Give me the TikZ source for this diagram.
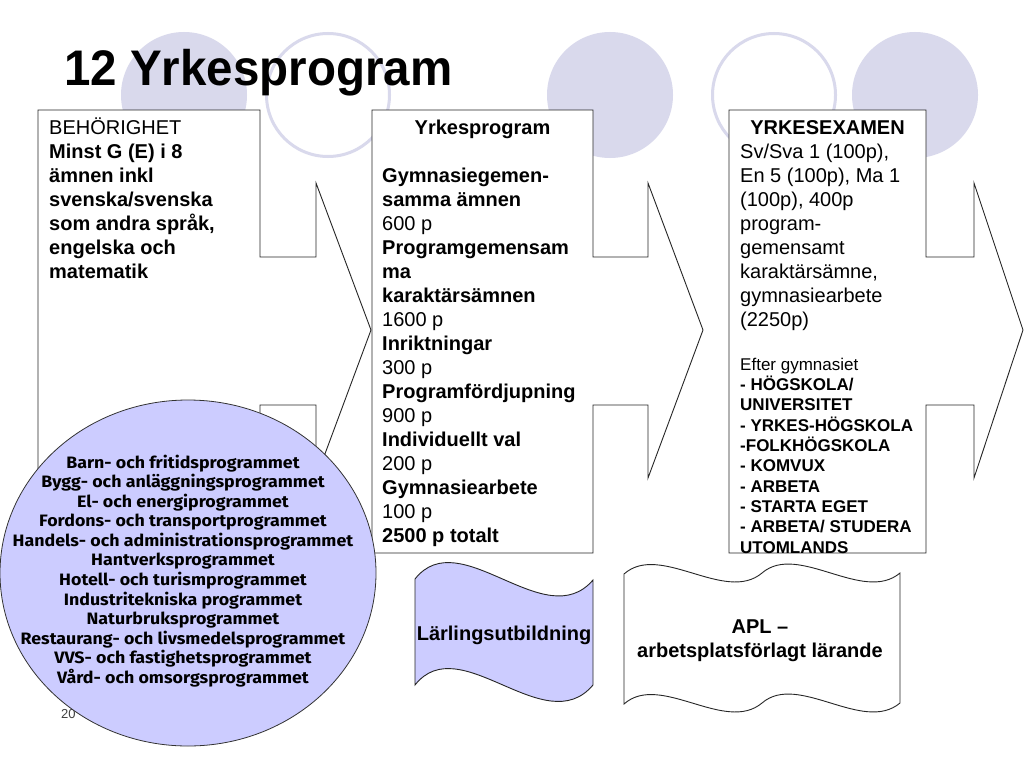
\documentclass[tikz,border=0pt]{standalone}
\usepackage{fontspec}
\setmainfont{Liberation Sans}
\newfontfamily\ellfont[FakeStretch=1.08]{Fira Sans}
\newfontfamily\titlefont[FakeStretch=0.95]{Liberation Sans}
\definecolor{bgc}{RGB}{217,217,236}
\definecolor{lav}{RGB}{204,204,255}
\newcommand{\bstrut}{\rule{0pt}{20pt}}
\newcommand{\sstrut}{\rule{0pt}{17pt}}
\newcommand{\estrut}{\rule{0pt}{14pt}}
\begin{document}
\begin{tikzpicture}[x=1pt,y=-1pt,
  circfill/.style={fill=bgc,draw=none},
  circline/.style={draw=bgc,line width=3pt},
  arrowbox/.style={draw=black!85,line width=0.9pt,fill=white,line join=miter},
  wavebox/.style={draw=black!85,line width=0.9pt},
  txt/.style={inner sep=0pt,align=left,anchor=north west,font=\fontsize{20}{24}\selectfont},
  smalltxt/.style={inner sep=0pt,align=left,anchor=north west,font=\fontsize{17}{20.33}\selectfont},
  head/.style={inner sep=0pt,anchor=base,font=\fontsize{20}{24}\selectfont\bfseries},
  elltxt/.style={inner sep=0pt,align=center,anchor=north,font=\ellfont\fontsize{16.5}{19.55}\selectfont\bfseries}]
\useasboundingbox (0,0) rectangle (1024,768);
\fill[white] (0,0) rectangle (1024,768);

% background circles
\path[circfill] (184,95) circle[radius=63pt];
\path[circline] (328,95) circle[radius=61.5pt];
\path[circfill] (610,95) circle[radius=63pt];
\path[circline] (774,95) circle[radius=61.5pt];
\path[circfill] (915,95) circle[radius=63pt];

% title
\node[inner sep=0pt,anchor=base west,font=\titlefont\fontsize{50}{54}\selectfont\bfseries] (title) at (64,85) {12 Yrkesprogram};

% arrow boxes
\draw[arrowbox] (38,110) -- (260,110) -- (260,257) -- (316,257) -- (316,183) -- (371,330) -- (316,478) -- (316,405) -- (260,405) -- (260,553) -- (38,553) -- cycle;
\draw[arrowbox] (372,110) -- (593,110) -- (593,257) -- (648,257) -- (648,183) -- (703,330) -- (648,478) -- (648,405) -- (593,405) -- (593,553) -- (372,553) -- cycle;
\draw[arrowbox] (729,110) -- (926,110) -- (926,257) -- (974,257) -- (974,183) -- (1023,330) -- (974,478) -- (974,405) -- (926,405) -- (926,553) -- (729,553) -- cycle;

% box 1 text
\node[txt] (beh) at (49,114) {\bstrut BEHÖRIGHET\\ \textbf{Minst G (E) i 8}\\ \textbf{ämnen inkl}\\ \textbf{svenska/svenska}\\ \textbf{som andra språk,}\\ \textbf{engelska och}\\ \textbf{matematik}};

% box 2 text
\node[head] (h2) at (482.5,134) {Yrkesprogram};
\node[txt] (yp) at (382,162) {\bstrut\textbf{Gymnasiegemen-}\\ \textbf{samma ämnen}\\ 600 p\\ \textbf{Programgemensam}\\ \textbf{ma}\\ \textbf{karaktärsämnen}\\ 1600 p\\ \textbf{Inriktningar}\\ 300 p\\ \textbf{Programfördjupning}\\ 900 p\\ \textbf{Individuellt val}\\ 200 p\\ \textbf{Gymnasiearbete}\\ 100 p\\ \textbf{2500 p totalt}};

% box 3 text
\node[head] (h3) at (827.5,134) {YRKESEXAMEN};
\node[txt] (ex) at (740,138) {\bstrut Sv/Sva 1 (100p),\\ En 5 (100p), Ma 1\\ (100p), 400p\\ program-\\ gemensamt\\ karaktärsämne,\\ gymnasiearbete\\ (2250p)};
\node[smalltxt] (efter) at (740,353) {\sstrut Efter gymnasiet\\ \textbf{- HÖGSKOLA/}\\ \textbf{UNIVERSITET}\\ \textbf{- YRKES-HÖGSKOLA}\\ \textbf{-FOLKHÖGSKOLA}\\ \textbf{- KOMVUX}\\ \textbf{- ARBETA}\\ \textbf{- STARTA EGET}\\ \textbf{- ARBETA/ STUDERA}\\ \textbf{UTOMLANDS}};

% footer text partly hidden
\node[inner sep=0pt,anchor=base west,font=\fontsize{13}{15}\selectfont,text=black!75] (yr) at (61,718) {20};

% ellipse of programmes
\draw[fill=lav,draw=black!80,line width=0.8pt] (188,573) ellipse[x radius=188pt,y radius=173pt];
\node[elltxt] (progs) at (183,454) {\estrut Barn- och fritidsprogrammet\\ Bygg- och anläggningsprogrammet\\ El- och energiprogrammet\\ Fordons- och transportprogrammet\\ Handels- och administrationsprogrammet\\ Hantverksprogrammet\\ Hotell- och turismprogrammet\\ Industritekniska programmet\\ Naturbruksprogrammet\\ Restaurang- och livsmedelsprogrammet\\ VVS- och fastighetsprogrammet\\ Vård- och omsorgsprogrammet};

% wave shapes
\draw[wavebox,fill=lav] (415,579) .. controls (460,522) and (545,636) .. (593,580) -- (593,685) .. controls (545,742) and (460,628) .. (415,685) -- cycle;
\node[head] (larl) at (504,640) {Lärlingsutbildning};

\draw[wavebox,fill=white] (624,574) .. controls (660,542) and (725,604) .. (762,573) .. controls (798,542) and (863,604) .. (900,573) -- (900,703) .. controls (863,734) and (798,672) .. (762,703) .. controls (725,734) and (660,672) .. (624,704) -- cycle;
\node[inner sep=0pt,align=center,anchor=north,font=\fontsize{20}{24}\selectfont\bfseries] (apl) at (760,613) {\bstrut APL –\\ arbetsplatsförlagt lärande};
\end{tikzpicture}
\end{document}
